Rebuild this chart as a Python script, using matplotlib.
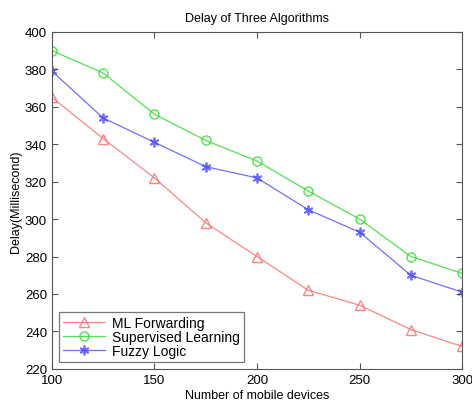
import matplotlib
matplotlib.use("Agg")
import matplotlib.pyplot as plt

plt.rcParams['font.family'] = ['Liberation Sans', 'DejaVu Sans']

# data
devices = [100, 125, 150, 175, 200, 225, 250, 275, 300]
ml_forwarding = [365, 343, 322, 298, 280, 262, 254, 241, 232]
supervised = [390, 378, 356, 342, 331, 315, 300, 280, 271]
fuzzy = [379, 354, 341, 328, 322, 305, 293, 270, 261]

fig = plt.figure(figsize=(4.72, 4.06), dpi=100)
ax = fig.add_axes([0.110, 0.089, 0.869, 0.830])

ax.plot(devices, ml_forwarding, color='#ff7070', marker='^', ms=6.5, mfc='none',
        lw=0.9, alpha=0.85, label='ML Forwarding')
ax.plot(devices, supervised, color='#33dd33', marker='o', ms=6.5, mfc='none',
        lw=0.9, alpha=0.85, label='Supervised Learning')
ax.plot(devices, fuzzy, color='#4040ff', marker=(6, 2, 0), ms=7, mew=1.3,
        lw=0.9, alpha=0.75, label='Fuzzy Logic')

ax.set_xlim(100, 300)
ax.set_ylim(220, 400)
ax.set_xticks([100, 150, 200, 250, 300])
ax.set_yticks(range(220, 401, 20))
ax.tick_params(direction='in', top=True, right=True, labelsize=9.5, length=4,
               color='#555555')
for s in ax.spines.values():
    s.set_color('#555555')

ax.set_xlabel('Number of mobile devices', fontsize=9, labelpad=2)
ax.set_ylabel('Delay(Millisecond)', fontsize=9, labelpad=2)
ax.set_title('Delay of Three Algorithms', fontsize=9, pad=8)

leg = ax.legend(loc='lower left', fontsize=10, fancybox=False, edgecolor='#555555',
                borderaxespad=0.5, handlelength=3.0, labelspacing=0.0,
                borderpad=0.3, handletextpad=0.5)
leg.get_frame().set_linewidth(0.9)

fig.savefig('out.png', dpi=100)
